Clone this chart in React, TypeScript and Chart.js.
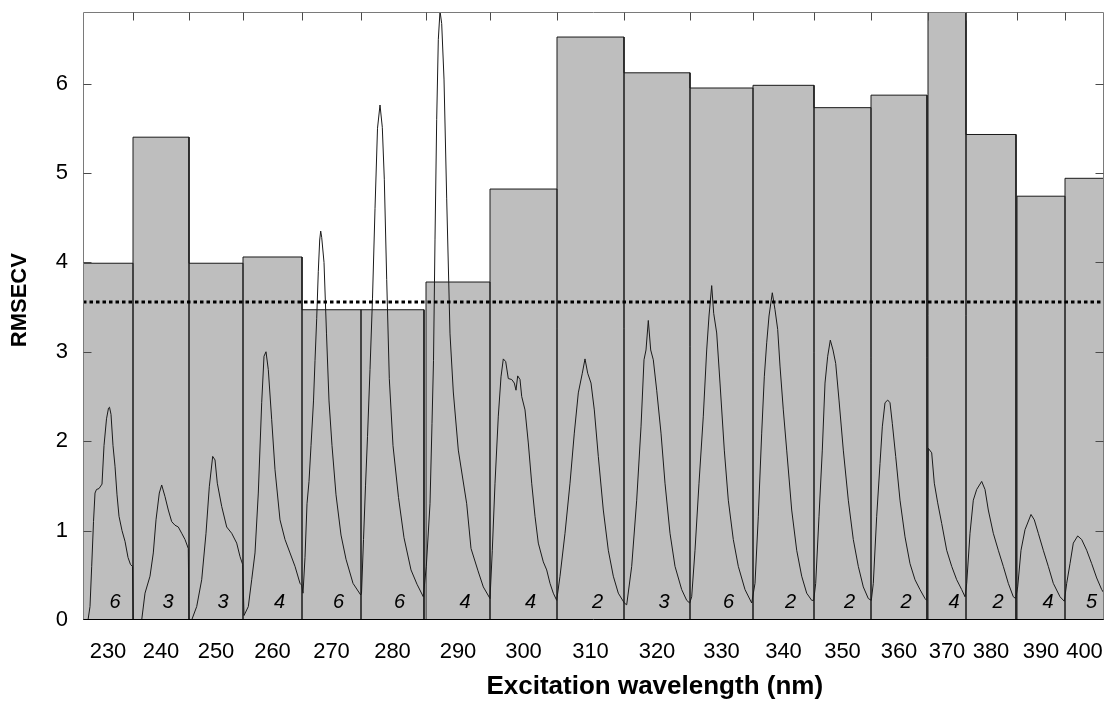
import React, { useEffect, useRef } from 'react';
import { Chart, registerables } from 'chart.js';

Chart.register(...registerables);

// Excitation wavelengths (nm) and cross-validated errors
const excitation = [230, 240, 250, 260, 270, 280, 290, 300, 310, 320, 330, 340, 350, 360, 370, 380, 390, 400];
const rmsecv = [3.99, 5.4, 3.99, 4.06, 3.47, 3.47, 3.78, 4.82, 6.52, 6.12, 5.95, 5.98, 5.73, 5.87, 7.0, 5.43, 4.74, 4.94];
const latentVariables = [6, 3, 3, 4, 6, 6, 4, 4, 2, 3, 6, 2, 2, 2, 4, 2, 4, 5];
// Emission channel range belonging to each excitation wavelength
const emStart = [0, 50, 106, 160, 219, 278, 343, 407, 474, 541, 607, 670, 731, 788, 845, 883, 934, 982];
const emEnd = [50, 106, 160, 219, 278, 341, 407, 474, 541, 607, 670, 731, 788, 844, 883, 933, 982, 1021];
const referenceRmsecv = 3.556;
const yTicks = [0, 1, 2, 3, 4, 5, 6];
const yMax = 6.8;
const xMax = 1021;
const lvLabelLevel = 0.2;

// Emission spectra (channel, scaled intensity), one per excitation wavelength
const spec230 = [[0, 0], [5, 0], [7, 0.15], [8.7, 0.6], [10.5, 1.1], [12, 1.42], [13.5, 1.46], [16, 1.47], [19, 1.52], [21, 1.95], [23.5, 2.25], [25.5, 2.37], [26.5, 2.38], [28, 2.3], [30, 1.95], [32, 1.72], [34, 1.4], [36, 1.16], [39, 1.0], [42, 0.88], [45, 0.7], [47.5, 0.62], [49.5, 0.6]];
const spec240 = [[50.3, 0], [58.7, 0], [62, 0.3], [67, 0.49], [70.3, 0.75], [73, 1.12], [76.3, 1.42], [78.7, 1.51], [82, 1.38], [85.3, 1.23], [88.7, 1.1], [92, 1.06], [95.3, 1.04], [98.7, 0.97], [102, 0.9], [105.3, 0.8]];
const spec250 = [[106, 0], [108.7, 0], [113.7, 0.15], [118.7, 0.45], [123, 0.97], [126.3, 1.49], [129.7, 1.83], [132, 1.79], [134.3, 1.53], [138.7, 1.27], [143.7, 1.04], [148.7, 0.97], [153.7, 0.86], [157, 0.71], [159.7, 0.62]];
const spec260 = [[161, 0.05], [165.3, 0.15], [168.7, 0.45], [172, 0.75], [175.3, 1.42], [178.7, 2.43], [181, 2.95], [183, 3.0], [185.3, 2.8], [188.7, 2.24], [192, 1.68], [197, 1.12], [202, 0.9], [207, 0.75], [212, 0.6], [217, 0.41], [218.7, 0.39]];
const spec270 = [[220, 0.3], [222, 0.7], [224, 1.3], [226, 1.55], [228, 1.95], [230.5, 2.45], [232, 2.9], [233.7, 3.37], [235.3, 3.9], [236.7, 4.25], [237.7, 4.35], [238.7, 4.28], [241, 4.0], [243.5, 3.2], [246, 2.45], [249, 1.95], [253, 1.4], [258, 0.95], [263, 0.68], [270, 0.41], [277.7, 0.28]];
const spec280 = [[278.5, 0.3], [280.5, 0.9], [282.5, 1.5], [284.5, 2.05], [287, 2.8], [289.5, 3.6], [292, 4.6], [294.5, 5.5], [297, 5.76], [299.3, 5.51], [301.3, 4.93], [303.7, 3.81], [306.3, 2.7], [310, 1.95], [315.5, 1.37], [321, 0.92], [328, 0.56], [334, 0.4], [340.3, 0.26]];
const spec290 = [[343.3, 0.6], [347, 1.3], [349, 2.2], [350.5, 2.9], [352, 4.26], [353.7, 5.6], [355.3, 6.49], [357, 6.81], [358.7, 6.67], [361, 6.05], [363.7, 4.71], [367, 3.2], [370.3, 2.55], [375.3, 1.9], [383.7, 1.3], [388, 0.8], [395, 0.55], [400.3, 0.37], [407, 0.24]];
const spec300 = [[409.3, 0.78], [412, 1.53], [415.3, 2.28], [418, 2.72], [420.3, 2.92], [422.7, 2.89], [425.3, 2.7], [428.7, 2.69], [431.3, 2.65], [433, 2.57], [434.7, 2.73], [437, 2.69], [438.7, 2.5], [442, 2.35], [445.3, 1.98], [448.7, 1.53], [452, 1.16], [455.3, 0.86], [460.3, 0.65], [463.7, 0.56], [467, 0.41], [470.3, 0.3], [473.7, 0.22]];
const spec310 = [[477, 0.49], [482, 0.97], [487, 1.53], [491.3, 2.09], [495.3, 2.54], [499.3, 2.76], [502, 2.92], [504.7, 2.76], [508, 2.65], [511.3, 2.35], [515.3, 1.83], [520.3, 1.23], [525.3, 0.78], [530.3, 0.49], [535.3, 0.3], [541.3, 0.19]];
const spec320 = [[543.7, 0.17], [548.7, 0.6], [553.7, 1.34], [558, 2.16], [561, 2.91], [563, 3.02], [565.3, 3.35], [567.7, 3.02], [570.3, 2.91], [573.7, 2.57], [578, 2.09], [582, 1.53], [587, 0.97], [592, 0.6], [598.7, 0.34], [603.7, 0.22], [606.7, 0.19]];
const spec330 = [[608.7, 0.26], [612, 0.78], [616, 1.53], [620.3, 2.28], [623.7, 3.02], [626, 3.4], [628.7, 3.74], [630.7, 3.43], [633.7, 3.21], [637, 2.65], [641.3, 1.9], [645.3, 1.34], [650.3, 0.9], [655.3, 0.6], [662, 0.34], [668.7, 0.19]];
const spec340 = [[672, 0.41], [675.3, 1.16], [678.7, 2.09], [681.3, 2.72], [683.7, 3.1], [686, 3.4], [689.3, 3.66], [692, 3.47], [694.7, 3.25], [697, 2.84], [700.3, 2.35], [703.7, 1.9], [708.7, 1.23], [713.7, 0.78], [718.7, 0.49], [723.7, 0.3], [728.7, 0.22], [730.7, 0.22]];
const spec350 = [[732.7, 0.41], [736, 1.16], [739.3, 1.9], [742, 2.65], [744.7, 2.95], [747.3, 3.13], [750, 3.02], [752.7, 2.87], [756, 2.46], [760.3, 1.9], [765.3, 1.34], [770.3, 0.9], [775.3, 0.6], [780.3, 0.37], [785.3, 0.24], [788.3, 0.22]];
const spec360 = [[790.3, 0.41], [793.7, 1.16], [797, 1.75], [799.3, 2.16], [802, 2.43], [804.7, 2.46], [807, 2.43], [809.3, 2.2], [812.7, 1.83], [817, 1.34], [822, 0.93], [827, 0.63], [832, 0.45], [837, 0.34], [842, 0.24], [843.7, 0.22]];
const spec370 = [[845.3, 1.92], [848.7, 1.87], [851.3, 1.53], [854.7, 1.31], [858.7, 1.08], [863.7, 0.78], [868.7, 0.6], [873.7, 0.45], [878.7, 0.34], [882, 0.26]];
const spec380 = [[883.7, 0.41], [887, 0.97], [890.3, 1.34], [893.7, 1.46], [898.7, 1.55], [902, 1.46], [905.3, 1.23], [910.3, 0.97], [915.3, 0.78], [920.3, 0.6], [925.3, 0.41], [930.3, 0.26], [932.7, 0.24]];
const spec390 = [[934.7, 0.37], [938, 0.78], [942, 1.01], [948, 1.18], [951.3, 1.12], [955.3, 0.97], [960.3, 0.78], [965.3, 0.6], [970.3, 0.41], [977, 0.26], [981.3, 0.21]];
const spec400 = [[983.7, 0.41], [987, 0.63], [990.3, 0.86], [994.7, 0.94], [998.7, 0.9], [1003.7, 0.78], [1008.7, 0.63], [1013.7, 0.47], [1018.7, 0.34], [1021, 0.3]];

const spectra = [spec230, spec240, spec250, spec260, spec270, spec280, spec290, spec300, spec310, spec320, spec330, spec340, spec350, spec360, spec370, spec380, spec390, spec400];

const FONT = '"Liberation Sans", Arial, Helvetica, sans-serif';

const framePlugin = {
  id: 'matlabFrame',
  afterDatasetsDraw(chart: any) {
    const { ctx, chartArea: a, scales } = chart;
    const x = scales.x;
    const y = scales.y;
    ctx.save();
    // latent variable numbers
    ctx.font = `italic 20px ${FONT}`;
    ctx.fillStyle = '#000';
    ctx.textAlign = 'center';
    ctx.textBaseline = 'middle';
    latentVariables.forEach((n, i) => {
      const cx = x.getPixelForValue((emStart[i] + emEnd[i]) / 2) + 7;
      ctx.fillText(String(n), cx, y.getPixelForValue(lvLabelLevel));
    });
    // frame
    const L = Math.round(a.left) + 0.5;
    const R = Math.round(a.right) - 0.5;
    const T = Math.round(a.top) + 0.5;
    const B = Math.round(a.bottom) - 0.5;
    ctx.strokeStyle = '#7a7a7a';
    ctx.lineWidth = 1;
    ctx.beginPath();
    ctx.moveTo(L, B);
    ctx.lineTo(L, T);
    ctx.lineTo(R, T);
    ctx.lineTo(R, B);
    ctx.stroke();
    ctx.strokeStyle = '#000';
    ctx.beginPath();
    ctx.moveTo(L, B);
    ctx.lineTo(R, B);
    ctx.stroke();
    // inward ticks
    ctx.strokeStyle = '#4a4a4a';
    ctx.beginPath();
    yTicks.forEach((v) => {
      if (v === 0) return;
      const py = Math.round(y.getPixelForValue(v)) + 0.5;
      ctx.moveTo(L, py);
      ctx.lineTo(L + 8, py);
      ctx.moveTo(R, py);
      ctx.lineTo(R - 8, py);
    });
    emStart.forEach((v, i) => {
      if (i === 0) return;
      const px = Math.round(x.getPixelForValue(v)) + 0.5;
      ctx.moveTo(px, T);
      ctx.lineTo(px, T + 8);
    });
    ctx.stroke();
    ctx.restore();
  },
  afterDraw(chart: any) {
    const { ctx, chartArea: a } = chart;
    ctx.save();
    ctx.fillStyle = '#000';
    ctx.textAlign = 'center';
    ctx.textBaseline = 'middle';
    ctx.font = `bold 26px ${FONT}`;
    ctx.fillText('Excitation wavelength (nm)', a.left + 0.56 * (a.right - a.left), a.bottom + 67);
    ctx.translate(20, a.top + 0.474 * (a.bottom - a.top));
    ctx.rotate(-Math.PI / 2);
    ctx.font = `bold 22px ${FONT}`;
    ctx.fillText('RMSECV', 0, 0);
    ctx.restore();
  },
};

export default function App() {
  const ref = useRef<HTMLCanvasElement | null>(null);
  useEffect(() => {
    if (!ref.current) return;
    const barOutline: { x: number; y: number }[] = [];
    rmsecv.forEach((h, i) => {
      barOutline.push({ x: emStart[i], y: 0 });
      barOutline.push({ x: emStart[i], y: h });
      barOutline.push({ x: emEnd[i], y: h });
      barOutline.push({ x: emEnd[i], y: 0 });
    });
    const spectrumPts: { x: number; y: number }[] = [];
    spectra.forEach((s) => s.forEach(([cx, cy]) => spectrumPts.push({ x: cx, y: cy })));
    const centers = emStart.map((s, i) => (s + emEnd[i]) / 2);

    const chart = new Chart(ref.current, {
      type: 'line',
      data: {
        datasets: [
          {
            data: barOutline,
            borderColor: '#1a1a1a',
            borderWidth: 1,
            backgroundColor: '#bebebe',
            fill: 'origin',
            pointRadius: 0,
            order: 3,
          },
          {
            data: spectrumPts,
            borderColor: '#1a1a1a',
            borderWidth: 1,
            fill: false,
            pointRadius: 0,
            order: 2,
          },
          {
            data: [{ x: 0, y: referenceRmsecv }, { x: xMax, y: referenceRmsecv }],
            borderColor: '#000',
            borderWidth: 3,
            borderDash: [3.5, 3],
            borderCapStyle: 'butt',
            fill: false,
            pointRadius: 0,
            order: 1,
          },
        ],
      },
      options: {
        animation: false,
        responsive: true,
        maintainAspectRatio: false,
        layout: { padding: { top: 12, right: 1, left: 0, bottom: 0 } },
        plugins: { legend: { display: false }, tooltip: { enabled: false }, title: { display: false } },
        scales: {
          x: {
            type: 'linear',
            min: 0,
            max: xMax,
            grid: { display: false },
            border: { display: false },
            afterBuildTicks: (axis: any) => {
              axis.ticks = centers.map((v) => ({ value: v }));
            },
            afterFit: (axis: any) => {
              axis.height = 86;
              axis.paddingLeft = 0;
              axis.paddingRight = 0;
            },
            ticks: {
              autoSkip: false,
              maxRotation: 0,
              minRotation: 0,
              padding: 11,
              color: '#000',
              font: { family: FONT, size: 22 },
              callback: (_v: any, i: number) => String(excitation[i]),
            },
          },
          y: {
            min: 0,
            max: yMax,
            grid: { display: false },
            border: { display: false },
            afterBuildTicks: (axis: any) => {
              axis.ticks = yTicks.map((v) => ({ value: v }));
            },
            afterFit: (axis: any) => {
              axis.width = 83;
              axis.paddingTop = 0;
              axis.paddingBottom = 0;
            },
            ticks: {
              padding: 7,
              color: '#000',
              font: { family: FONT, size: 22 },
              callback: (v: any) => String(v),
            },
          },
        },
      },
      plugins: [framePlugin],
    } as any);
    return () => chart.destroy();
  }, []);

  return (
    <div style={{ position: 'fixed', left: 0, top: 0, width: 1105, height: 706, background: '#fff' }}>
      <canvas ref={ref} />
    </div>
  );
}
